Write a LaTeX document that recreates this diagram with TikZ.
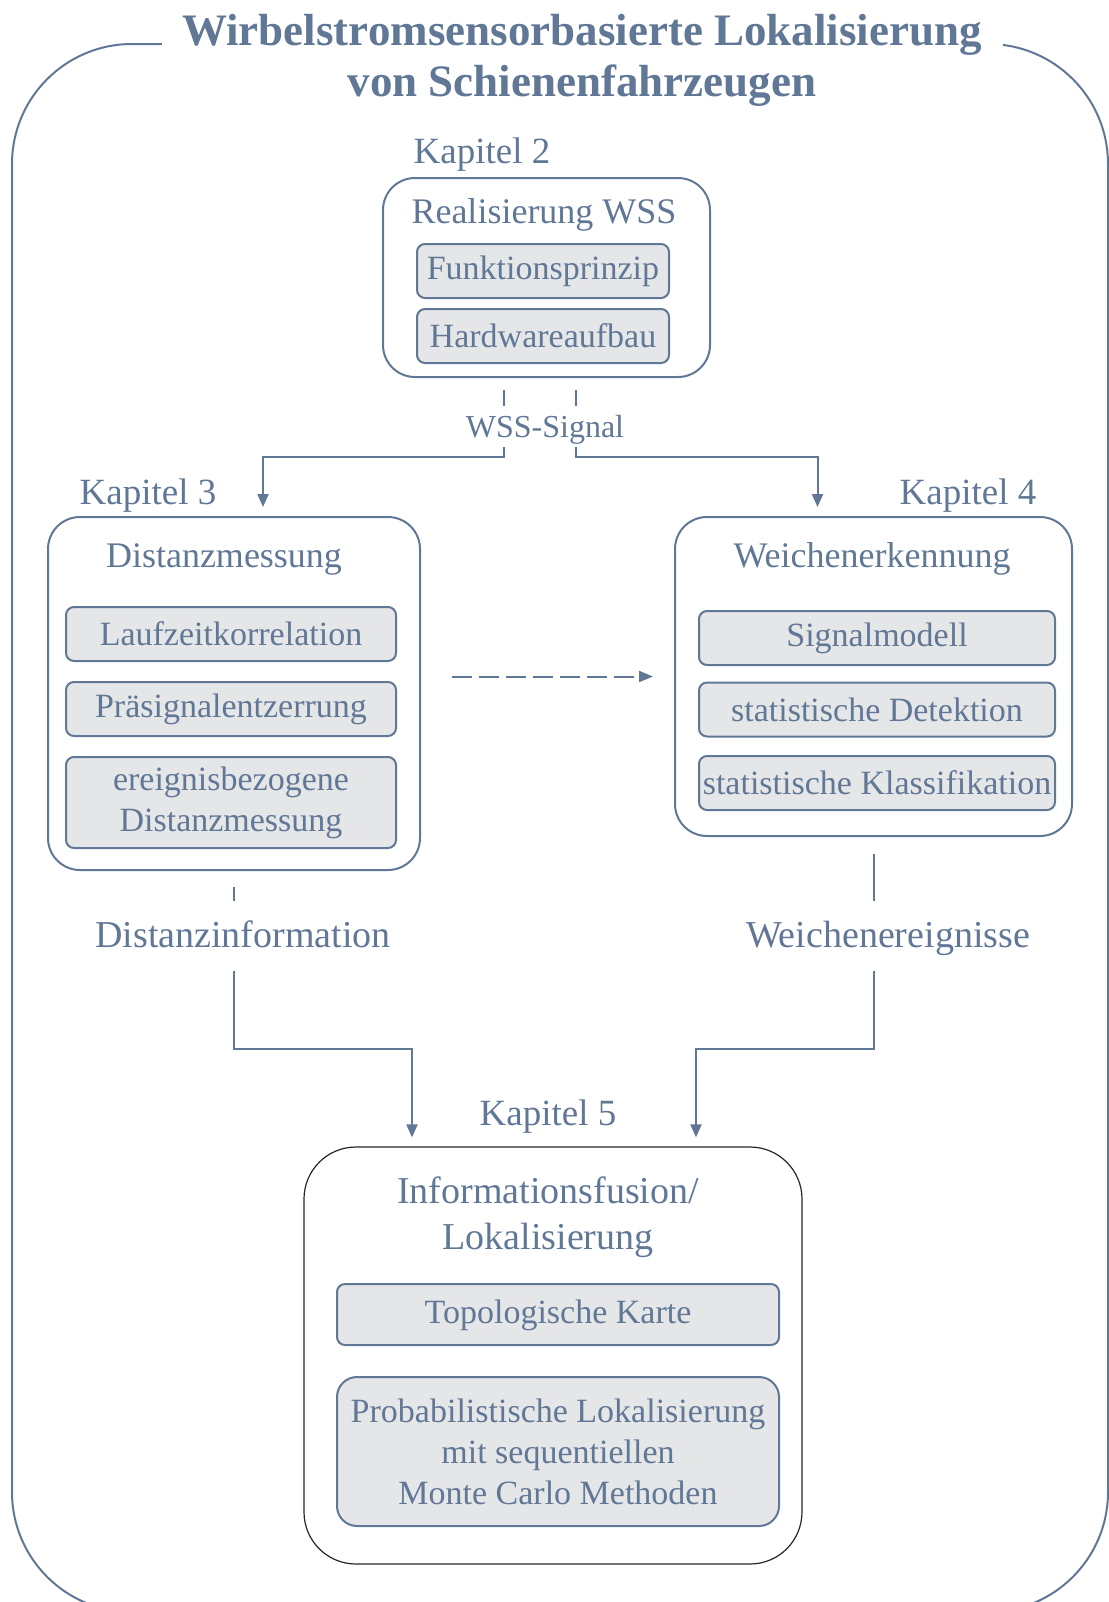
\documentclass[tikz,border=0pt]{standalone}
\usepackage{fontspec}
\setmainfont{Liberation Serif}
\usetikzlibrary{arrows.meta,calc}
\definecolor{slate}{HTML}{617796}
\definecolor{boxgray}{HTML}{E5E6E8}

\begin{document}
\begin{tikzpicture}[x=0.5pt,y=-0.5pt,
  outerframe/.style={draw=slate,line width=1pt,rounded corners=60pt},
  chapbox/.style={draw=slate,line width=1pt,rounded corners=16pt,inner sep=0pt},
  fusionbox/.style={draw=black!85,line width=0.6pt,rounded corners=26pt,inner sep=0pt},
  itembox/.style={draw=slate,fill=boxgray,line width=1pt,rounded corners=4pt,inner sep=0pt,
    align=center,text=slate,font=\fontsize{17}{20.5}\selectfont},
  boxtitle/.style={text=slate,align=center,font=\fontsize{18}{23}\selectfont},
  chaplabel/.style={text=slate,font=\fontsize{18.5}{22}\selectfont},
  flowlabel/.style={fill=white,text=slate,inner xsep=2pt,inner ysep=0pt,
    font=\fontsize{19}{22}\selectfont,text height=23pt,text depth=12pt},
  conn/.style={draw=slate,line width=1pt},
  arrowend/.style={-{Triangle[length=6.5pt,width=5.5pt]},shorten >=4.5pt},
]
\useasboundingbox (0,0) rectangle (1109,1602);

% frame and title
\draw[outerframe] (12,44) rectangle (1108,1612);
\node[fill=white,text=slate,align=center,minimum width=420.5pt,inner ysep=2pt,
  font=\bfseries\fontsize{22.5}{25.5}\selectfont] (title) at (582,60)
  {Wirbelstromsensorbasierte Lokalisierung\\von Schienenfahrzeugen};

% Kapitel 2
\node[chaplabel] (k2) at (482,155) {Kapitel 2};
\node[chapbox,minimum width=163.5pt,minimum height=99.5pt] (realbox) at (546.5,277.5) {};
\node[boxtitle] (realtitle) at (544,215) {Realisierung WSS};
\node[itembox,minimum width=126pt,minimum height=27pt] (funk) at (543,271) {Funktionsprinzip};
\node[itembox,minimum width=126pt,minimum height=27pt] (hard) at (543,336) {Hardwareaufbau};

% Kapitel 3
\node[chaplabel] (k3) at (148,496) {Kapitel 3};
\node[chapbox,minimum width=186pt,minimum height=176.5pt] (distbox) at (234,693.5) {};
\node[boxtitle] (disttitle) at (224,559) {Distanzmessung};
\node[itembox,minimum width=165pt,minimum height=27pt] (lauf) at (231,634) {Laufzeitkorrelation};
\node[itembox,minimum width=165pt,minimum height=27pt] (prae) at (231,709) {Präsignalentzerrung};
\node[itembox,minimum width=165pt,minimum height=45.5pt] (ereig) at (231,802.5) {ereignisbezogene\\Distanzmessung};

% Kapitel 4
\node[chaplabel] (k4) at (968,496) {Kapitel 4};
\node[chapbox,minimum width=198.5pt,minimum height=159.5pt] (weichbox) at (873.5,676.5) {};
\node[boxtitle] (weichtitle) at (872,559) {Weichenerkennung};
\node[itembox,minimum width=178pt,minimum height=27pt] (sigmod) at (877,638) {Signalmodell};
\node[itembox,minimum width=178pt,minimum height=27pt] (detek) at (877,709.5) {statistische Detektion};
\node[itembox,minimum width=178pt,minimum height=27pt] (klass) at (877,783) {statistische Klassifikation};

% Kapitel 5
\node[chaplabel] (k5) at (548,1117) {Kapitel 5};
\node[fusionbox,minimum width=249pt,minimum height=208.5pt] (fusbox) at (553,1355.5) {};
\node[boxtitle,font=\fontsize{19}{23}\selectfont] (fustitle) at (548,1217) {Informationsfusion/\\Lokalisierung};
\node[itembox,minimum width=221pt,minimum height=30.5pt,text depth=3pt] (topo) at (558,1314.5) {Topologische Karte};
\node[itembox,minimum width=221pt,minimum height=74.5pt,rounded corners=10pt] (prob) at (558,1451.5)
  {Probabilistische Lokalisierung\\mit sequentiellen\\Monte Carlo Methoden};

% connectors
\coordinate (sigL) at (504,390);
\coordinate (sigR) at (576,390);
\draw[conn,arrowend] (sigL) -- (504,457) -| ([xshift=14.5pt]distbox.north);
\draw[conn,arrowend] (sigR) -- (576,457) -| ([xshift=-28pt]weichbox.north);
\node[flowlabel,font=\fontsize{16}{19}\selectfont,text height=15.5pt,text depth=5pt] (sig) at (545,426.5) {WSS-Signal};

\draw[conn,dash pattern=on 10pt off 3.5pt,-{Triangle[length=7pt,width=5.5pt]},
  shorten <=15.5pt,shorten >=10.5pt] (distbox.east |- weichbox.west) -- (weichbox.west);

\coordinate (distA) at (234,887);
\coordinate (weichA) at (874,854);
\draw[conn,arrowend] (distA) -- (234,1049) -| ([xshift=-70.5pt]fusbox.north);
\draw[conn,arrowend] (weichA) -- (874,1049) -| ([xshift=71.5pt]fusbox.north);
\node[flowlabel] (distinfo) at (243,936) {Distanzinformation};
\node[flowlabel] (weichev) at (888,936) {Weichenereignisse};

\end{tikzpicture}
\end{document}
